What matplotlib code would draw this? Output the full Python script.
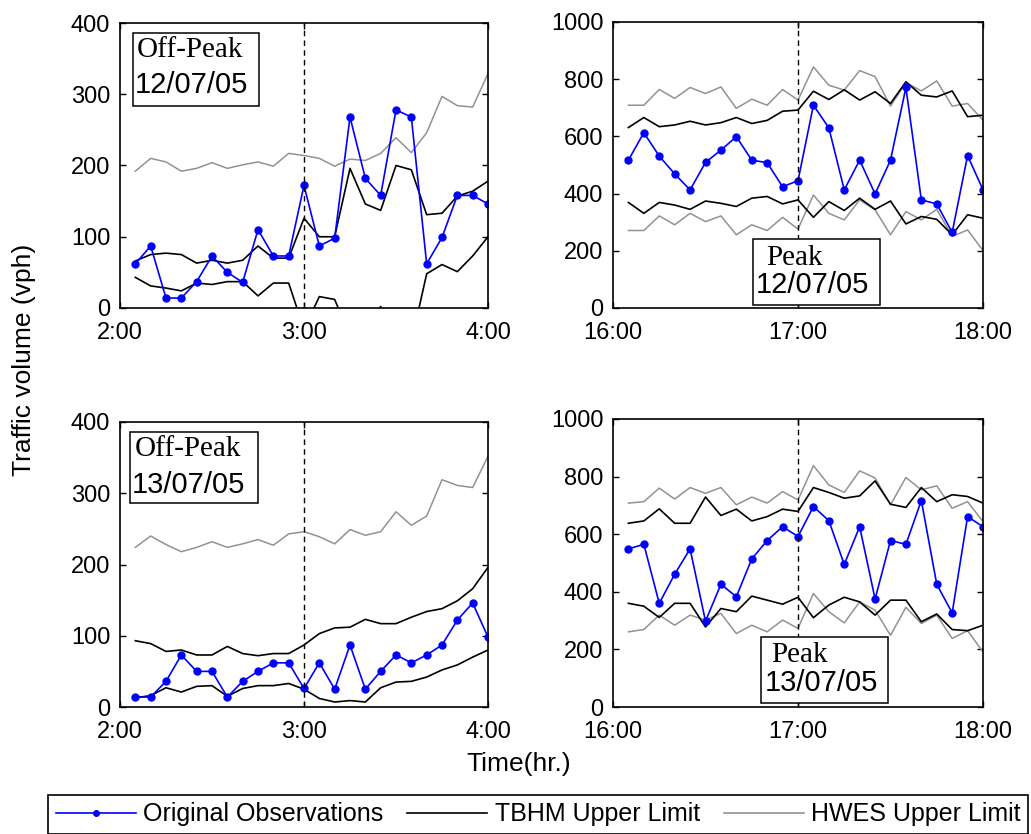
import numpy as np
import matplotlib.pyplot as plt
from matplotlib.patches import Rectangle

plt.rcParams['font.family'] = ['Liberation Sans', 'DejaVu Sans']

# minutes after the start of each 2 hour window
minutes = [5, 10, 15, 20, 25, 30, 35, 40, 45, 50, 55, 60,
           65, 70, 75, 80, 85, 90, 95, 100, 105, 110, 115, 120]

# off-peak, 12/07/05 (2:00-4:00)
op12_obs = [62, 87, 14, 14, 37, 73, 50, 36, 110, 73, 73, 172,
            87, 98, 268, 182, 158, 278, 268, 62, 99, 158, 158, 146]
op12_tb_up = [66, 75, 77, 75, 63, 67, 63, 67, 87, 70, 70, 126,
              100, 100, 196, 146, 137, 200, 194, 131, 133, 157, 164, 178]
op12_tb_lo = [43, 31, 28, 24, 35, 33, 37, 37, 17, 35, 35, -30,
              16, 12, -40, -30, 2, -40, -48, 48, 61, 51, 73, 100]
op12_hw_up = [192, 210, 205, 192, 196, 204, 196, 201, 205, 199, 217, 214,
              210, 199, 209, 207, 217, 239, 218, 246, 297, 284, 282, 329]

# peak, 12/07/05 (16:00-18:00)
pk12_obs = [517, 613, 531, 469, 413, 509, 552, 599, 517, 508, 424, 445,
            709, 630, 413, 517, 399, 517, 771, 378, 364, 264, 533, 413]
pk12_tb_up = [631, 666, 634, 640, 653, 640, 648, 666, 645, 656, 688, 692,
              758, 729, 763, 727, 756, 715, 791, 744, 738, 759, 669, 674]
pk12_tb_lo = [369, 331, 369, 360, 345, 374, 366, 355, 384, 390, 364, 378,
              317, 372, 341, 384, 345, 374, 294, 320, 310, 256, 326, 314]
pk12_hw_up = [709, 709, 764, 733, 771, 750, 773, 698, 730, 709, 764, 727,
              843, 779, 762, 830, 809, 706, 788, 759, 794, 706, 715, 657]
pk12_hw_lo = [271, 271, 322, 291, 331, 302, 322, 256, 291, 271, 317, 276,
              395, 331, 308, 378, 343, 256, 337, 308, 345, 250, 273, 201]

# off-peak, 13/07/05 (2:00-4:00)
op13_obs = [14, 14, 36, 73, 50, 50, 14, 36, 50, 62, 62, 26,
            62, 25, 87, 25, 50, 73, 62, 73, 87, 122, 146, 98]
op13_tb_up = [93, 89, 78, 80, 73, 73, 85, 75, 72, 75, 75, 87,
              103, 111, 112, 123, 117, 117, 126, 134, 138, 149, 166, 196]
op13_tb_lo = [13, 16, 27, 21, 29, 30, 15, 26, 30, 30, 33, 25,
              12, 7, 9, 7, 27, 35, 36, 42, 52, 59, 70, 80]
op13_hw_up = [224, 240, 228, 218, 224, 232, 224, 229, 235, 227, 243, 246,
              239, 229, 249, 241, 246, 274, 255, 268, 319, 311, 308, 352]

# peak, 13/07/05 (16:00-18:00)
pk13_obs = [549, 565, 360, 461, 549, 298, 426, 383, 514, 578, 626, 592,
            696, 647, 495, 626, 375, 578, 565, 717, 426, 327, 661, 626]
pk13_tb_up = [638, 646, 688, 638, 638, 729, 665, 687, 646, 661, 687, 679,
              762, 745, 725, 733, 785, 704, 693, 762, 713, 737, 731, 708]
pk13_tb_lo = [360, 350, 311, 360, 360, 278, 342, 331, 385, 371, 357, 381,
              310, 354, 381, 365, 319, 371, 371, 296, 323, 269, 265, 284]
pk13_hw_up = [708, 713, 760, 722, 762, 742, 762, 702, 729, 708, 748, 719,
              838, 771, 745, 820, 795, 702, 797, 754, 768, 690, 713, 644]
pk13_hw_lo = [261, 269, 319, 284, 319, 302, 325, 255, 284, 261, 302, 273,
              394, 331, 292, 365, 336, 249, 346, 290, 319, 238, 265, 191]

offpeak_ticks = ['2:00', '3:00', '4:00']
peak_ticks = ['16:00', '17:00', '18:00']
W, H = 1031, 834

fig = plt.figure(figsize=(W / 100, H / 100), dpi=100)


def make_axes(l, t, r, b):
    return fig.add_axes([l / W, 1 - b / H, (r - l) / W, (b - t) / H])


def panel(ax, obs, tb_up, tb_lo, hw_up, hw_lo, ymax, ystep, xlabels):
    grey = '#929292'
    ax.plot(minutes, hw_up, color=grey, lw=1.1)
    if hw_lo is not None:
        ax.plot(minutes, hw_lo, color=grey, lw=1.1)
    ax.plot(minutes, tb_up, color='black', lw=1.2)
    ax.plot(minutes, tb_lo, color='black', lw=1.2)
    ax.plot(minutes, obs, color='blue', lw=1.2, marker='o', ms=5)
    ax.axvline(60, color='black', ls=(0, (4, 3)), lw=1.0)
    ax.set_xlim(0, 120)
    ax.set_ylim(0, ymax)
    ax.set_xticks([0, 60, 120])
    ax.set_xticklabels(xlabels)
    ax.set_yticks(np.arange(0, ymax + 1, ystep))
    ax.tick_params(direction='in', length=4, width=1, labelsize=17,
                   top=True, right=True)
    ax.tick_params(axis='y', pad=7)
    ax.tick_params(axis='x', pad=10)
    for s in ax.spines.values():
        s.set_linewidth(1.2)


def label_box(ax, x0, y0, x1, y1, top_txt, top_xy, date_txt, date_xy):
    ax.add_patch(Rectangle((x0, y0), x1 - x0, y1 - y0, transform=ax.transAxes,
                           facecolor='white', edgecolor='black', lw=1.1,
                           zorder=5))
    ax.text(top_xy[0], top_xy[1], top_txt, transform=ax.transAxes,
            family=['Liberation Serif', 'DejaVu Serif'], fontsize=21,
            ha='left', va='center', zorder=6)
    ax.text(date_xy[0], date_xy[1], date_txt, transform=ax.transAxes,
            fontsize=21, ha='left', va='center', zorder=6)


ax1 = make_axes(120, 23, 488, 308)
panel(ax1, op12_obs, op12_tb_up, op12_tb_lo, op12_hw_up, None, 400, 100, offpeak_ticks)
label_box(ax1, 0.035, 0.709, 0.378, 0.965, 'Off-Peak', (0.046, 0.905),
          '12/07/05', (0.040, 0.782))

ax2 = make_axes(613, 22, 983, 308)
panel(ax2, pk12_obs, pk12_tb_up, pk12_tb_lo, pk12_hw_up, pk12_hw_lo, 1000, 200, peak_ticks)
label_box(ax2, 0.378, 0.0105, 0.722, 0.241, 'Peak', (0.414, 0.175),
          '12/07/05', (0.386, 0.080))

ax3 = make_axes(120, 422, 488, 707)
panel(ax3, op13_obs, op13_tb_up, op13_tb_lo, op13_hw_up, None, 400, 100, offpeak_ticks)
label_box(ax3, 0.027, 0.716, 0.375, 0.965, 'Off-Peak', (0.041, 0.905),
          '13/07/05', (0.033, 0.779))

ax4 = make_axes(613, 419, 983, 707)
panel(ax4, pk13_obs, pk13_tb_up, pk13_tb_lo, pk13_hw_up, pk13_hw_lo, 1000, 200, peak_ticks)
label_box(ax4, 0.400, 0.014, 0.743, 0.243, 'Peak', (0.427, 0.181),
          '13/07/05', (0.411, 0.083))

fig.text(24 / W, 1 - 360 / H, 'Traffic volume (vph)', rotation=90,
         fontsize=19, ha='center', va='center')
fig.text(519 / W, 1 - 764 / H, 'Time(hr.)', fontsize=19,
         ha='center', va='center')

handles = [
    plt.Line2D([], [], color='blue', lw=1.2, marker='o', ms=4),
    plt.Line2D([], [], color='black', lw=1.2),
    plt.Line2D([], [], color='#929292', lw=1.2),
]
labels = ['Original Observations', 'TBHM Upper Limit', 'HWES Upper Limit']
leg = fig.legend(handles, labels, loc='upper left', ncol=3, mode='expand',
                 bbox_to_anchor=(48 / W, 0, 980 / W, 1 - 795 / H),
                 fontsize=18, handlelength=3.2, handletextpad=0.3,
                 columnspacing=0.8, borderpad=0.3, borderaxespad=0,
                 fancybox=False, framealpha=1, edgecolor='black')
leg.get_frame().set_linewidth(1.2)

plt.savefig('out.png', dpi=100)
